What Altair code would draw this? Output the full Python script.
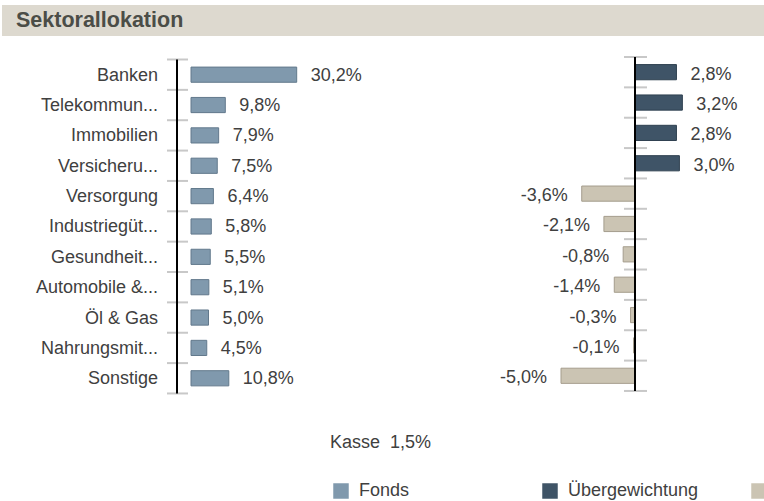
import altair as alt
import pandas as pd

# ---------------- data ----------------
sectors = ["Banken", "Telekommun...", "Immobilien", "Versicheru...", "Versorgung",
           "Industriegüt...", "Gesundheit...", "Automobile &...", "Öl & Gas",
           "Nahrungsmit...", "Sonstige"]
fonds = [30.2, 9.8, 7.9, 7.5, 6.4, 5.8, 5.5, 5.1, 5.0, 4.5, 10.8]
diff = [2.8, 3.2, 2.8, 3.0, -3.6, -2.1, -0.8, -1.4, -0.3, -0.1, -5.0]
cash = 1.5
legend_names = ["Fonds", "Übergewichtung", "Untergewichtung"]
legend_colors = ["#8099ad", "#3f5467", "#cbc4b3"]
title_text = "Sektorallokation"

# ---------------- layout / style ----------------
W, H = 764, 501
FONT = "Liberation Sans"
TXT = "#404040"
ROW_PX, TOP_PX = 30.36, 59.5
L_ZERO, L_PX = 191, 3.5
R_ZERO, R_PX = 635, 14.8


def de(v):
    return f"{v:.1f}".replace(".", ",") + "%"


rows = pd.DataFrame({"sector": sectors, "fonds": fonds, "diff": diff})
rows["i"] = range(len(sectors))
rows["y0"] = rows["i"] + 0.25
rows["y1"] = rows["i"] + 0.75
rows["yc"] = rows["i"] + 0.5
rows["fl"] = [de(v) for v in fonds]
rows["dl"] = [de(v) for v in diff]
rows["typ"] = [legend_names[1] if v > 0 else legend_names[2] for v in diff]
rows["ftyp"] = legend_names[0]
bounds = pd.DataFrame({"k": list(range(len(sectors) + 1))})
one = alt.Data(values=[{}])

yscale = alt.Scale(domain=[-TOP_PX / ROW_PX, (H - TOP_PX) / ROW_PX], reverse=True, nice=False, zero=False)
lscale = alt.Scale(domain=[-L_ZERO / L_PX, (W - L_ZERO) / L_PX], nice=False, zero=False)
rscale = alt.Scale(domain=[-R_ZERO / R_PX, (W - R_ZERO) / R_PX], nice=False, zero=False)
cscale = alt.Scale(domain=legend_names, range=legend_colors)
legend = alt.Legend(title=None, orient="none", legendX=332, legendY=482, direction="horizontal",
                    columns=3, gridAlign="all", columnPadding=46, symbolType="square",
                    symbolSize=240, symbolStrokeWidth=0, symbolOpacity=1, labelFont=FONT,
                    labelFontSize=18, labelColor=TXT, labelOffset=9, labelLimit=300)


def Y(f):
    return alt.Y(f, scale=yscale, axis=None)


txt = dict(font=FONT, fontSize=18, color=TXT, baseline="middle")

# title bar
title_bg = alt.Chart(one).mark_rect(color="#ddd9cf").encode(
    x=alt.value(2), x2=alt.value(W), y=alt.value(5), y2=alt.value(36))
title = alt.Chart(one).mark_text(text=title_text, align="left", baseline="middle", font=FONT,
                                 fontSize=21.5, fontWeight="bold", color="#4b4d47").encode(
    x=alt.value(16), y=alt.value(21))

# left panel
l_ticks = alt.Chart(bounds).mark_rule(color="#c8c8c8", strokeWidth=2, xOffset=-24, x2Offset=-3).encode(
    x=alt.X(datum=0, scale=lscale, axis=None), x2=alt.X2(datum=0), y=Y("k:Q"))
l_bars = alt.Chart(rows).mark_bar(stroke="#62798c", strokeWidth=1).encode(
    x=alt.X("fonds:Q", scale=lscale, axis=None), x2=alt.X2(datum=0),
    y=Y("y0:Q"), y2="y1:Q",
    color=alt.Color("ftyp:N", scale=cscale, legend=legend))
l_axis = alt.Chart(one).mark_rule(color="black", strokeWidth=2, xOffset=-14).encode(
    x=alt.X(datum=0, scale=lscale, axis=None), y=alt.Y(datum=0, scale=yscale, axis=None),
    y2=alt.Y2(datum=len(sectors)))
l_vals = alt.Chart(rows).mark_text(align="left", dx=14, dy=1, **txt).encode(
    x=alt.X("fonds:Q", scale=lscale, axis=None), y=Y("yc:Q"), text="fl:N")
l_cats = alt.Chart(rows).mark_text(align="right", dx=-33, dy=1, **txt).encode(
    x=alt.X(datum=0, scale=lscale, axis=None), y=Y("yc:Q"), text="sector:N")

# right panel
r_ticks = alt.Chart(bounds).mark_rule(color="#c8c8c8", strokeWidth=2, xOffset=-11, x2Offset=12,
                                      yOffset=-2.5).encode(
    x=alt.X(datum=0, scale=rscale, axis=None), x2=alt.X2(datum=0), y=Y("k:Q"))
r_over = alt.Chart(rows).transform_filter("datum.diff > 0").mark_bar(
    stroke="#2f4050", strokeWidth=1, yOffset=-2.5, y2Offset=-2.5).encode(
    x=alt.X("diff:Q", scale=rscale, axis=None), x2=alt.X2(datum=0),
    y=Y("y0:Q"), y2="y1:Q",
    color=alt.Color("typ:N", scale=cscale, legend=legend))
r_under = alt.Chart(rows).transform_filter("datum.diff <= 0").mark_bar(
    stroke="#a59d8d", strokeWidth=1, yOffset=-2.5, y2Offset=-2.5).encode(
    x=alt.X("diff:Q", scale=rscale, axis=None), x2=alt.X2(datum=0),
    y=Y("y0:Q"), y2="y1:Q",
    color=alt.Color("typ:N", scale=cscale, legend=legend))
r_axis = alt.Chart(one).mark_rule(color="black", strokeWidth=2, yOffset=-2.5, y2Offset=-2.5).encode(
    x=alt.X(datum=0, scale=rscale, axis=None), y=alt.Y(datum=0, scale=yscale, axis=None),
    y2=alt.Y2(datum=len(sectors)))
r_pos = alt.Chart(rows).transform_filter("datum.diff > 0").mark_text(align="left", dx=14, **txt).encode(
    x=alt.X("diff:Q", scale=rscale, axis=None), y=Y("yc:Q"), text="dl:N")
r_neg = alt.Chart(rows).transform_filter("datum.diff <= 0").mark_text(align="right", dx=-14, **txt).encode(
    x=alt.X("diff:Q", scale=rscale, axis=None), y=Y("yc:Q"), text="dl:N")

kasse = alt.Chart(one).mark_text(text="Kasse\u00a0\u00a0" + de(cash), align="left", **txt).encode(
    x=alt.value(330), y=alt.value(443))

chart = alt.layer(
    title_bg, title,
    l_ticks, l_bars, l_axis, l_vals, l_cats,
    r_ticks, r_over, r_under, r_axis, r_pos, r_neg,
    kasse,
).resolve_scale(x="independent").properties(
    width=W, height=H, padding=0, autosize="none"
).configure_view(stroke=None)

chart.save("out.html", embed_options={"renderer": "svg", "actions": False})
